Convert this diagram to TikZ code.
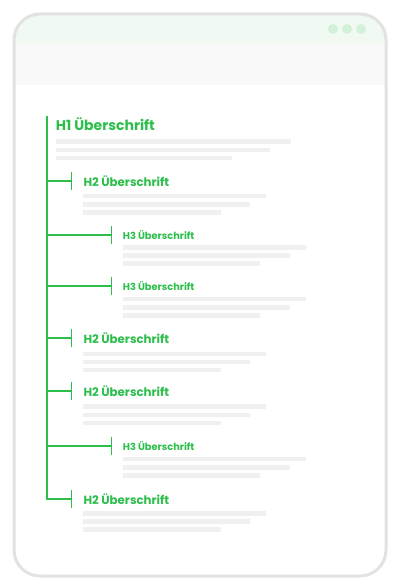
\documentclass[tikz,border=0pt]{standalone}
\usepackage{fontspec}
\setmainfont{Poppins}
\definecolor{hgreen}{HTML}{2CBF4C}
\definecolor{framegray}{HTML}{E2E2E2}
\definecolor{linegray}{HTML}{F0F0F0}
\definecolor{headgreen}{HTML}{F1FAF2}
\definecolor{headgray}{HTML}{F9F9F9}
\definecolor{dotgreen}{HTML}{D3F1D8}
\tikzset{
  conn/.style={draw=hgreen, line width=2pt},
  tickline/.style={draw=hgreen, line width=1.5pt},
  hone/.style={anchor=base west, inner sep=0pt, text=hgreen, font=\fontsize{14}{16}\selectfont\bfseries},
  htwo/.style={anchor=base west, inner sep=0pt, text=hgreen, font=\fontsize{11.8}{13}\selectfont\bfseries},
  hthree/.style={anchor=base west, inner sep=0pt, text=hgreen, font=\fontsize{9.8}{11}\selectfont\bfseries},
  bar/.style={fill=linegray, draw=none},
  dot/.style={circle, fill=dotgreen, minimum size=10pt, inner sep=0pt, draw=none}
}
\begin{document}
\begin{tikzpicture}[x=1pt,y=-1pt]
\useasboundingbox (0,0) rectangle (400,588);
% frame
\begin{scope}
  \clip[rounded corners=26pt] (14,14) rectangle (386,576);
  \fill[white] (14,14) rectangle (386,576);
  \fill[headgreen] (14,14) rectangle (386,44);
  \fill[headgray] (14,44) rectangle (386,85);
\end{scope}
\draw[framegray, line width=3pt, rounded corners=26pt] (14,14) rectangle (386,576);
\node[dot] (d1) at (333,29) {};
\node[dot] (d2) at (347,29) {};
\node[dot] (d3) at (361,29) {};
% headings
\node[hone] (h1) at (55.7,131) {H1 Überschrift};
\node[htwo] (h2a) at (83.3,186.3) {H2 Überschrift};
\node[hthree] (h3a) at (122.7,239.7) {H3 Überschrift};
\node[hthree] (h3b) at (122.7,290.7) {H3 Überschrift};
\node[htwo] (h2b) at (83.3,343.7) {H2 Überschrift};
\node[htwo] (h2c) at (83.3,396.3) {H2 Überschrift};
\node[hthree] (h3c) at (122.7,450.7) {H3 Überschrift};
\node[htwo] (h2d) at (83.3,504.3) {H2 Überschrift};
% text bars
\foreach \x/\y/\a/\b/\c in {55.7/141.7/291/270/232,
  83.3/196/266.3/250/220.7,
  122.7/247.3/306/290/260.3,
  122.7/299/306/290/260.3,
  83.3/353.8/266.3/250/220.7,
  83.3/406.5/266.3/250/220.7,
  122.7/459/306/290/260.3,
  83.3/513.3/266.3/250/220.7}{
  \fill[bar] (\x,\y-2.3) rectangle (\a,\y+2.3);
  \fill[bar] (\x,\y+6) rectangle (\b,\y+10.6);
  \fill[bar] (\x,\y+14) rectangle (\c,\y+18.6);
}
% trunk coordinates
\coordinate (top) at (46.5,116);
\coordinate (t2a) at (46.5,180.7);
\coordinate (t3a) at (46.5,235);
\coordinate (t3b) at (46.5,285.7);
\coordinate (t2b) at (46.5,338.3);
\coordinate (t2c) at (46.5,391);
\coordinate (t3c) at (46.5,445.7);
\coordinate (t2d) at (46.5,499);
% tick end points
\coordinate (k2a) at (71.3,180.7);
\coordinate (k3a) at (111.3,235);
\coordinate (k3b) at (111.3,285.7);
\coordinate (k2b) at (71.3,338.3);
\coordinate (k2c) at (71.3,391);
\coordinate (k3c) at (111.3,445.7);
\coordinate (k2d) at (71.3,499);
\draw[conn] (top) -- (t2d) -- (k2d);
\foreach \a/\b in {t2a/k2a,t3a/k3a,t3b/k3b,t2b/k2b,t2c/k2c,t3c/k3c}{
  \draw[conn] (\a) -- (\b);
}
\foreach \k in {k2a,k3a,k3b,k2b,k2c,k3c,k2d}{
  \draw[tickline] ([yshift=-9pt]\k) -- ([yshift=9pt]\k);
}
\end{tikzpicture}
\end{document}
